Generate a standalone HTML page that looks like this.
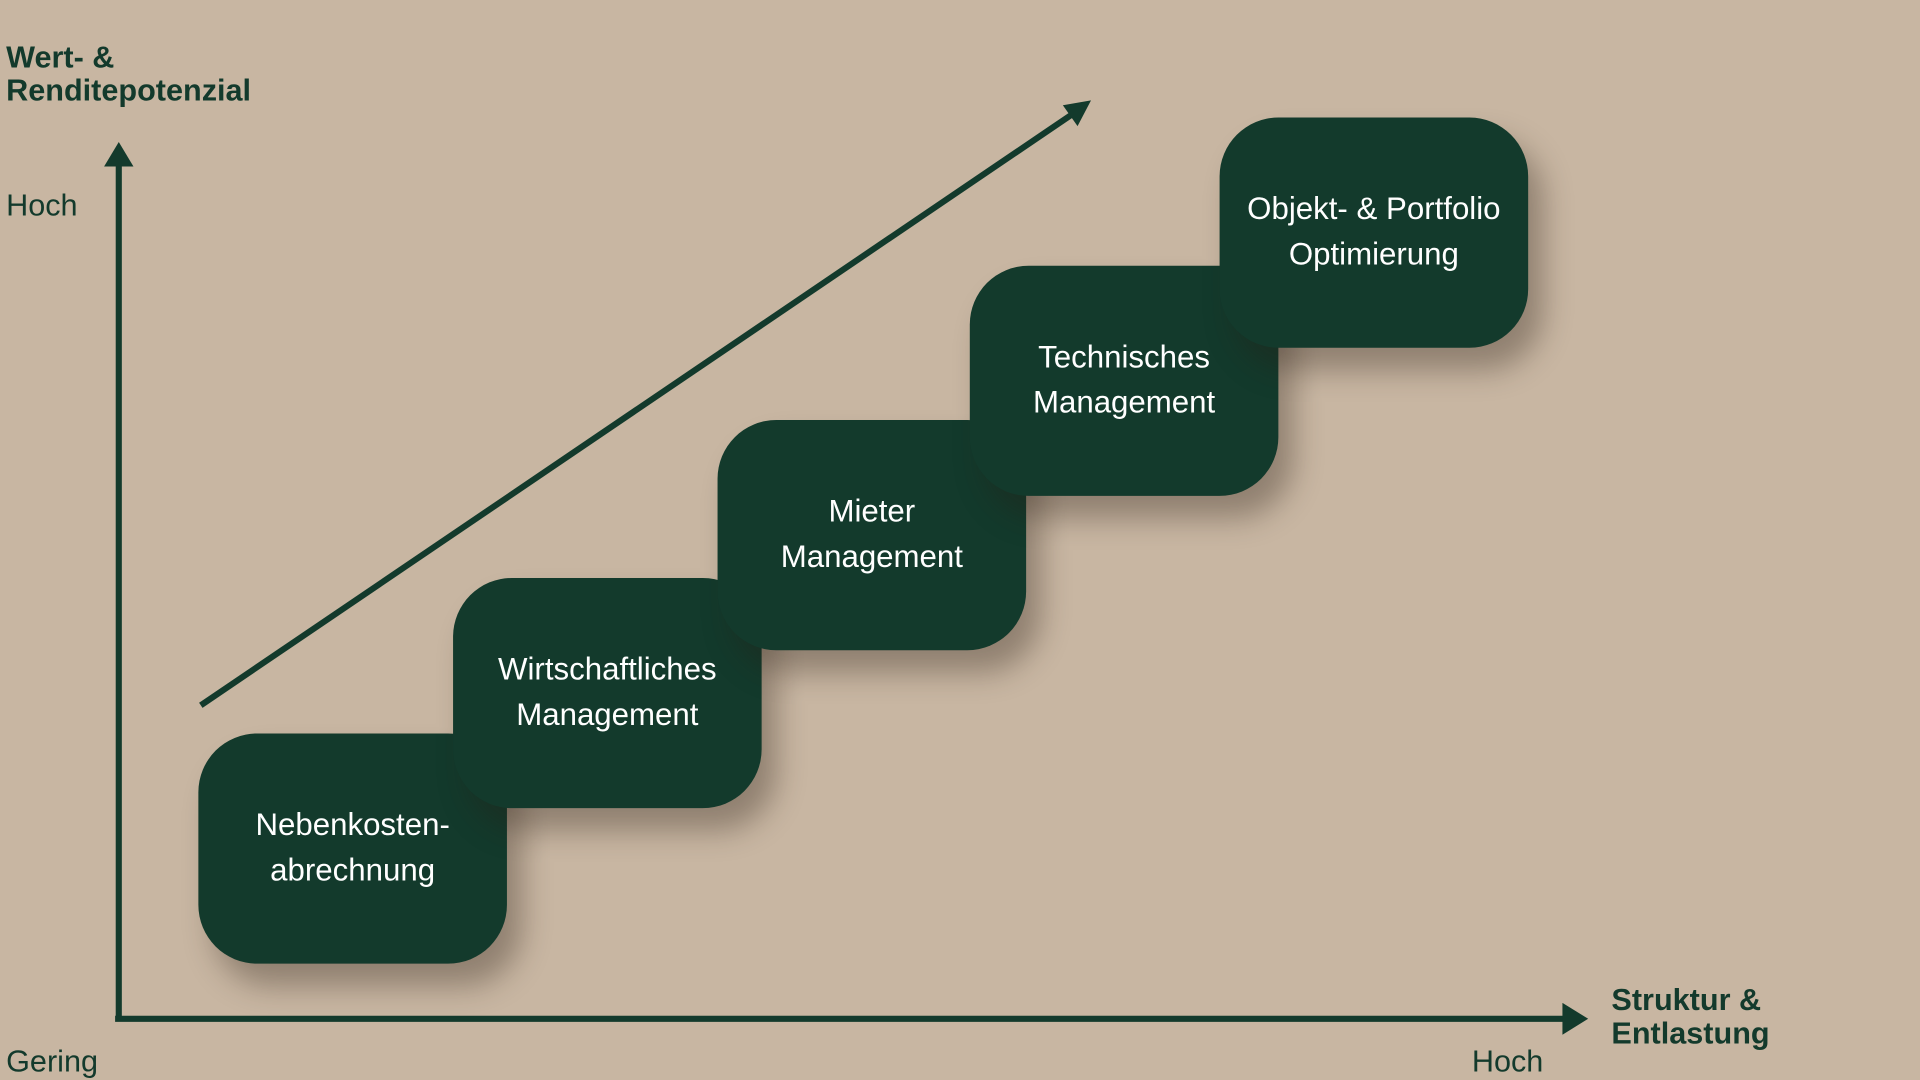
<!DOCTYPE html>
<html><head><meta charset="utf-8"><style>
html,body{margin:0;padding:0;width:1920px;height:1080px;overflow:hidden;background:#c8b6a2;}
#s{position:absolute;left:0;top:0;width:1568px;height:882px;transform:scale(1.22449);transform-origin:0 0;font-family:"Liberation Sans",sans-serif;color:#133a2c;}
.b{position:absolute;width:252px;height:188px;border-radius:48px;background:#133a2c;color:#fff;display:flex;align-items:center;justify-content:center;text-align:center;font-size:25.5px;line-height:37px;box-shadow:12px 18px 24px rgba(40,30,20,0.35);}
.t{position:absolute;font-size:25px;white-space:nowrap;}
.bold{font-weight:bold;font-size:25px;line-height:27px;}
</style></head><body><div id="s">
<svg width="1568" height="882" style="position:absolute;left:0;top:0">
<g stroke="#133a2c" stroke-width="5" fill="none">
<line x1="97" y1="834" x2="97" y2="126"/>
<line x1="94" y1="832" x2="1286" y2="832"/>
<line x1="164" y1="576" x2="882" y2="89"/>
</g>
<g fill="#133a2c">
<polygon points="97,116 85,136 109,136"/>
<polygon points="1297,832 1276,819 1276,845"/>
<polygon points="891,82 868,86 880,103"/>
</g>
</svg>
<div class="b" style="left:162px;top:599px">Nebenkosten-<br>abrechnung</div>
<div class="b" style="left:370px;top:472px">Wirtschaftliches<br>Management</div>
<div class="b" style="left:586px;top:343px">Mieter<br>Management</div>
<div class="b" style="left:792px;top:217px">Technisches<br>Management</div>
<div class="b" style="left:996px;top:96px">Objekt- &amp; Portfolio<br>Optimierung</div>
<div class="t bold" style="left:5px;top:34px">Wert- &amp;<br>Renditepotenzial</div>
<div class="t" style="left:5px;top:154px">Hoch</div>
<div class="t" style="left:5px;top:853px">Gering</div>
<div class="t" style="left:1202px;top:853px">Hoch</div>
<div class="t bold" style="left:1316px;top:804px">Struktur &amp;<br>Entlastung</div>
</div></body></html>
